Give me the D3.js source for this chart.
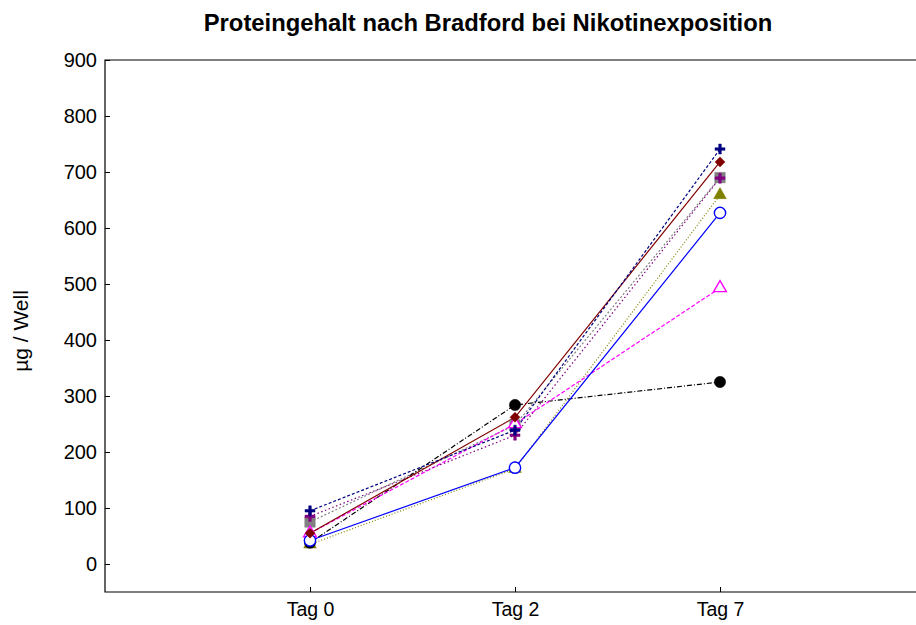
<!DOCTYPE html>
<meta charset="utf-8">
<html>
<head>
<script src="https://d3js.org/d3.v7.min.js"></script>
<style>
  body { margin: 0; background: #fff; }
  text { font-family: "Liberation Sans", Arial, sans-serif; }
</style>
</head>
<body>
<svg width="916" height="625"></svg>
<script>

var days = ["Tag 0", "Tag 2", "Tag 7"];
var yTicks = [0, 100, 200, 300, 400, 500, 600, 700, 800, 900];

// one array per group (µg / Well)
var blackCircle  = [38, 284, 325];
var blueCircle   = [42, 172, 627];
var magentaTri   = [55, 250, 493];
var oliveTri     = [35, 170, 659];
var maroonDiam   = [55, 262, 718];
var greySquare   = [75, 248, 690];
var purplePlus   = [85, 230, 689];
var navyPlus     = [95, 239, 741];

var series = [
  {vals: greySquare,  color: "#808080", dash: "2,2",       marker: "square", fill: true},
  {vals: oliveTri,    color: "#808000", dash: "1,2",       marker: "tri",    fill: true},
  {vals: blackCircle, color: "#000000", dash: "5,2,1,2",   marker: "circle", fill: true},
  {vals: magentaTri,  color: "#ff00ff", dash: "4,2",       marker: "tri",    fill: false},
  {vals: purplePlus,  color: "#800080", dash: "1.5,2.5",   marker: "plus",   fill: true},
  {vals: blueCircle,  color: "#0000ff", dash: null,        marker: "circle", fill: false},
  {vals: maroonDiam,  color: "#800000", dash: null,        marker: "diamond",fill: true},
  {vals: navyPlus,    color: "#000080", dash: "3,2",       marker: "plus",   fill: true}
];

var svg = d3.select("svg");
var plotLeft = 105, plotTop = 60, plotBottom = 592;

var x = d3.scaleLinear().domain([-1, 3.05]).range([plotLeft, plotLeft + 205 * 4.05]);
var y = d3.scaleLinear().domain([-50, 900]).range([plotBottom, plotTop]);

// frame (right edge runs off the page)
svg.append("path")
  .attr("d", "M" + x(3.05) + "," + plotTop + "H" + plotLeft + "V" + plotBottom + "H" + x(3.05))
  .attr("fill", "none").attr("stroke", "#000").attr("stroke-width", 1.2);

svg.append("g")
  .attr("transform", "translate(" + plotLeft + ",0)")
  .call(d3.axisRight(y).tickValues(yTicks).tickSize(5).tickFormat(d3.format("d")))
  .call(function(g) {
    g.select(".domain").remove();
    g.selectAll("text").attr("x", -8).attr("text-anchor", "end")
      .attr("font-size", 20).attr("font-family", "Liberation Sans, Arial");
  });

svg.append("g")
  .attr("transform", "translate(0," + plotBottom + ")")
  .call(d3.axisTop(x).tickValues([0, 1, 2]).tickSize(5).tickFormat(function(d) { return days[d]; }))
  .call(function(g) {
    g.select(".domain").remove();
    g.selectAll("text").attr("y", 24).attr("dy", 0).attr("font-size", 19.5)
      .attr("font-family", "Liberation Sans, Arial");
  });

svg.append("text")
  .attr("x", 488).attr("y", 31)
  .attr("text-anchor", "middle")
  .attr("font-size", 23.8).attr("font-weight", "bold")
  .text("Proteingehalt nach Bradford bei Nikotinexposition");

svg.append("text")
  .attr("transform", "translate(28,331) rotate(-90)")
  .attr("text-anchor", "middle")
  .attr("font-size", 21)
  .text("µg / Well");

var line = d3.line().x(function(d, i) { return x(i); }).y(function(d) { return y(d); });

series.forEach(function(s) {
  svg.append("path")
    .attr("d", line(s.vals))
    .attr("fill", "none")
    .attr("stroke", s.color)
    .attr("stroke-width", 1.2)
    .attr("stroke-dasharray", s.dash);
});

var symbolType = {circle: d3.symbolCircle, square: d3.symbolSquare, tri: d3.symbolTriangle};
var symbolSize = {circle: 100, square: 110, tri: 70};

series.forEach(function(s) {
  svg.append("g").selectAll("path")
    .data(s.vals)
    .join("path")
      .attr("transform", function(d, i) { return "translate(" + x(i) + "," + y(d) + ")"; })
      .attr("d", function() {
        if (s.marker === "plus") return "M-5,-1.3H5V1.3H-5Z M-1.3,-5H1.3V5H-1.3Z";
        if (s.marker === "diamond") return "M0,-5L5,0L0,5L-5,0Z";
        return d3.symbol().type(symbolType[s.marker]).size(symbolSize[s.marker])();
      })
      .attr("fill", s.fill ? s.color : "#fff")
      .attr("stroke", s.color)
      .attr("stroke-width", s.fill ? 0.5 : 1.4);
});

</script>
</body>
</html>
